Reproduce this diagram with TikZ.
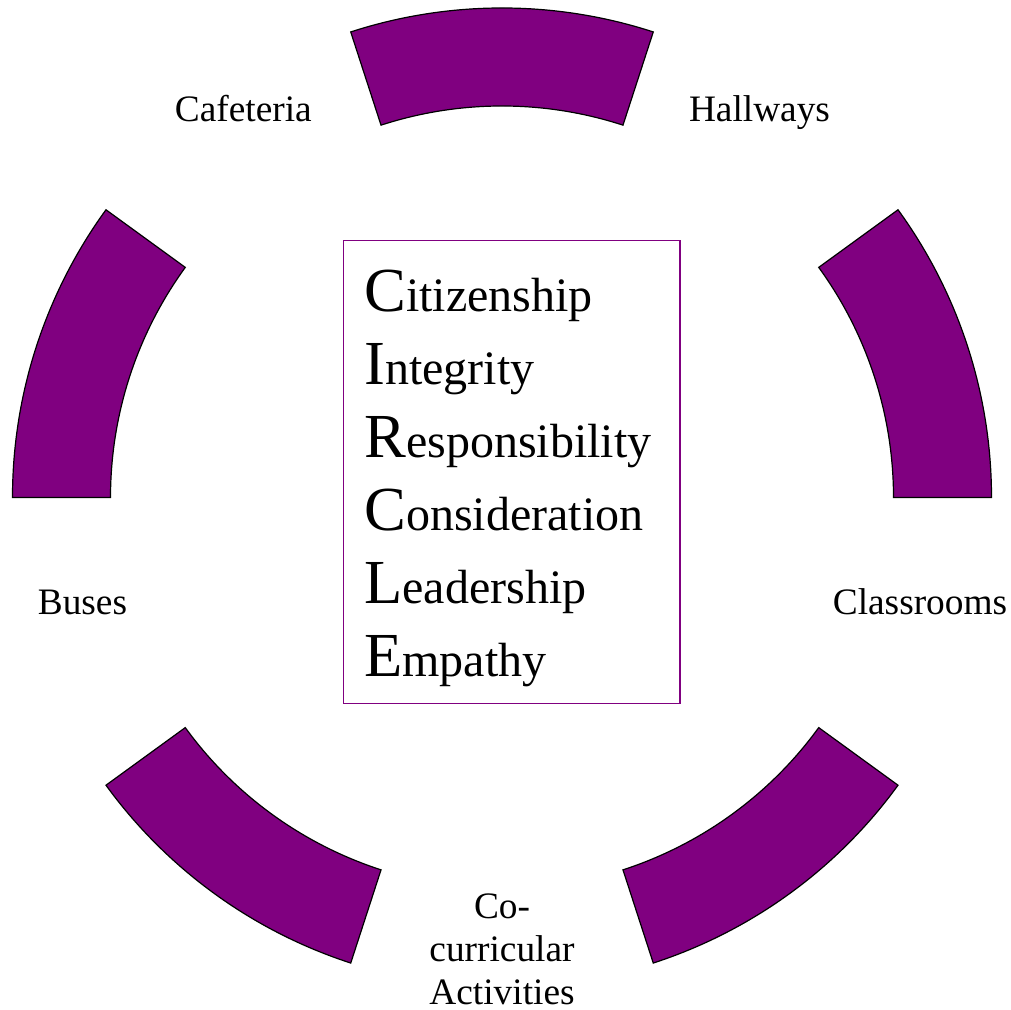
\documentclass[tikz,border=0pt]{standalone}
\usepackage{fontspec}
\setmainfont{Liberation Serif}
\usetikzlibrary{calc}
\definecolor{plum}{HTML}{800080}
\tikzset{
  seg/.style={fill=plum, draw=black, line width=0.9pt, line join=miter},
  lbl/.style={anchor=base, inner sep=0pt, font=\fontsize{28}{33}\selectfont},
  word/.style={anchor=base west, inner sep=0pt, font=\fontsize{36}{40}\selectfont},
  framebox/.style={draw=plum, line width=1pt, inner sep=0pt, minimum width=252.5pt, minimum height=347pt}
}
\newcommand{\initialletter}[1]{{\fontsize{47}{50}\selectfont #1}}
\newcommand{\segment}[2]{%
  \draw[seg] ($(O)+(#1:489.5)$) arc[start angle=#1, end angle=#2, radius=489.5]
    -- ($(O)+(#2:391.5)$) arc[start angle=#2, end angle=#1, radius=391.5] -- cycle;}
\begin{document}
\begin{tikzpicture}[x=0.75pt, y=0.75pt]
\useasboundingbox (0,0) rectangle (1011,1010);
\coordinate (O) at (502,512.5);
\segment{0}{36}
\segment{72}{108}
\segment{144}{180}
\segment{216}{252}
\segment{288}{324}
\node[framebox] (box) at (511.65,538) {};
\node[word] (w1) at (364,698.3) {\initialletter{C}itizenship};
\node[word] (w2) at (364,625.3) {\initialletter{I}ntegrity};
\node[word] (w3) at (364,552.3) {\initialletter{R}esponsibility};
\node[word] (w4) at (364,479.3) {\initialletter{C}onsideration};
\node[word] (w5) at (364,406.3) {\initialletter{L}eadership};
\node[word] (w6) at (364,333.3) {\initialletter{E}mpathy};
\node[lbl] (caf) at (243.3,888) {Cafeteria};
\node[lbl] (hall) at (759.5,888) {Hallways};
\node[lbl] (bus) at (82.5,395) {Buses};
\node[lbl] (cls) at (920,395) {Classrooms};
\node[lbl] (co1) at (502,91.5) {Co-};
\node[lbl] (co2) at (502,48.5) {curricular};
\node[lbl] (co3) at (502,5.5) {Activities};
\end{tikzpicture}
\end{document}
